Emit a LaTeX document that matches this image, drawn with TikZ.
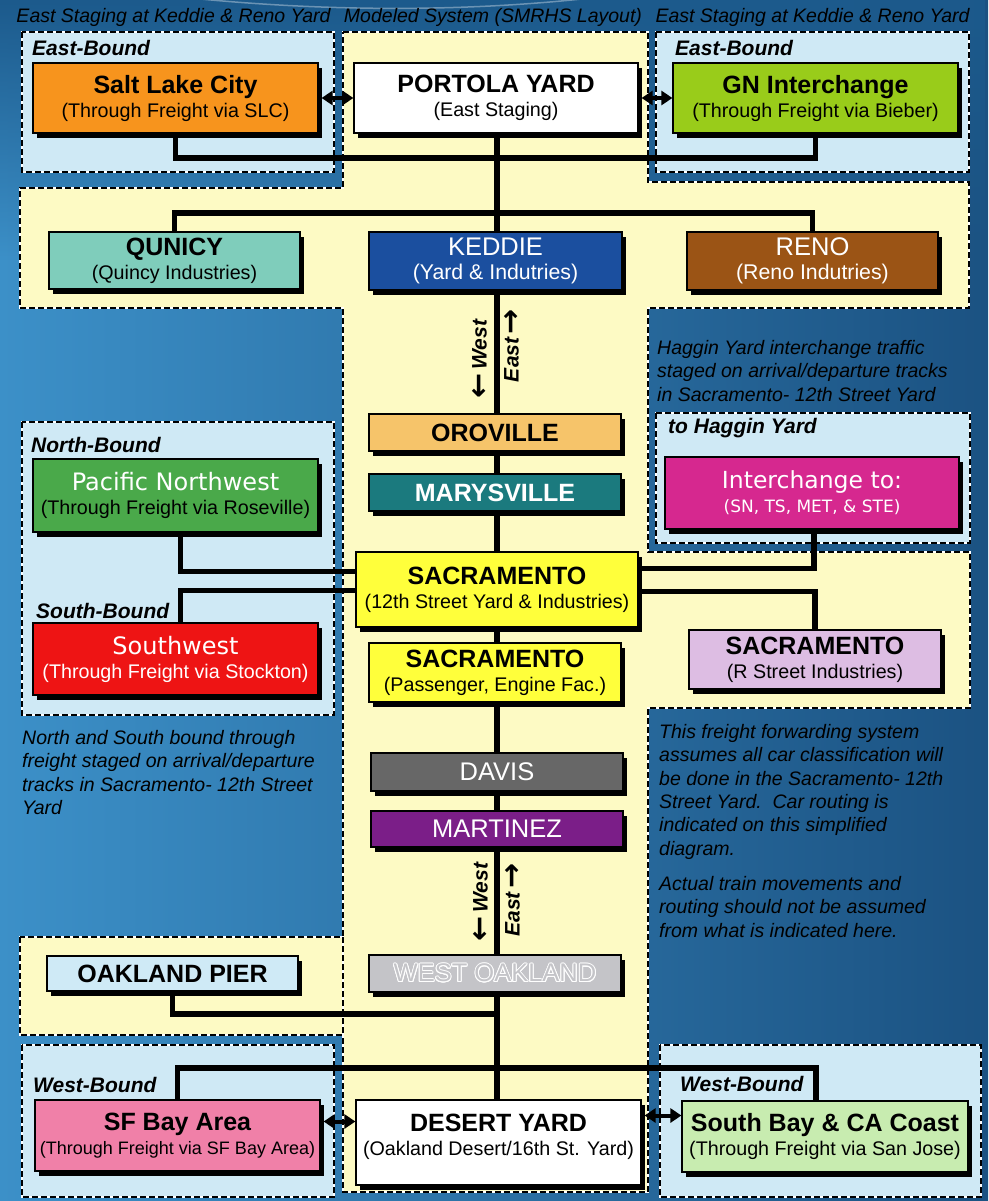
\documentclass[tikz,border=0pt]{standalone}
\usepackage{fontspec}
\setmainfont{Liberation Sans}
\newfontfamily\dv{DejaVu Sans}
\usepackage[copies]{contour}
\usetikzlibrary{shadows,arrows.meta,calc,fadings}
\definecolor{bgL}{HTML}{3C90C8}
\definecolor{bgR}{HTML}{1B5282}
\definecolor{bgT}{HTML}{1C5A8C}
\definecolor{paneblue}{HTML}{CFE9F5}
\definecolor{paneyel}{HTML}{FDFAC4}
\definecolor{cSLC}{HTML}{F7941D}
\definecolor{cGN}{HTML}{99CC1A}
\definecolor{cQuincy}{HTML}{7FCDBB}
\definecolor{cKeddie}{HTML}{1B4F9F}
\definecolor{cReno}{HTML}{9B5415}
\definecolor{cOro}{HTML}{F6C46A}
\definecolor{cMarys}{HTML}{1B7A7E}
\definecolor{cSac}{HTML}{FFFF3B}
\definecolor{cDavis}{HTML}{676767}
\definecolor{cMart}{HTML}{7B1E88}
\definecolor{cWOak}{HTML}{C4C4C8}
\definecolor{cPier}{HTML}{CFEAF6}
\definecolor{cSF}{HTML}{F080A8}
\definecolor{cSBay}{HTML}{C8ECB0}
\definecolor{cPNW}{HTML}{4AA94A}
\definecolor{cSW}{HTML}{EE1414}
\definecolor{cInter}{HTML}{D6288F}
\definecolor{cRSt}{HTML}{DDBDE3}
\newcommand\mybigb[1]{{\fontsize{25}{24}\selectfont\bfseries #1}}
\newcommand\mybigr[1]{{\fontsize{25.5}{24}\selectfont #1}}
\newcommand\myverd[1]{{\dv\fontsize{24}{24}\selectfont #1}}
\newcommand\myarwr{{\dv\bfseries\fontsize{30}{30}\selectfont\raisebox{-1.5pt}{\char"2192}}}
\newcommand\myarwl{{\dv\bfseries\fontsize{30}{30}\selectfont\raisebox{-1.5pt}{\char"2190}}}
\pgfdeclarelayer{panels}
\pgfdeclarelayer{lines}
\pgfsetlayers{panels,lines,main}
\contourlength{0.9pt}
\begin{document}
\begin{tikzpicture}[x=1pt,y=-1pt,
  box/.style={draw=black, line width=1.2pt,
    drop shadow={shadow xshift=4pt,shadow yshift=-5pt,opacity=1,fill=black},
    align=center, inner sep=0pt, font=\fontsize{19.7}{24}\selectfont},
  panel/.style={draw=white, line width=1.4pt,
    postaction={fill=none, draw=black, line width=1.4pt, dash pattern=on 6pt off 3pt}},
  conn/.style={draw=black, line width=5.5pt},
  dbl/.style={draw=black, line width=4pt, {Triangle[length=11pt,width=14pt]}-{Triangle[length=11pt,width=14pt]}},
  lab/.style={inner sep=0pt, anchor=west, font=\fontsize{21}{21}\selectfont\bfseries\itshape},
  note/.style={inner sep=0pt, anchor=north west, align=left, font=\fontsize{19.5}{23.4}\selectfont\itshape},
  title/.style={inner sep=0pt, font=\fontsize{19.5}{20}\selectfont\itshape},
  dir/.style={inner sep=0pt, rotate=90, font=\fontsize{21}{21}\selectfont\bfseries\itshape}]
\useasboundingbox (0,0) rectangle (988,1201);
\begin{pgfonlayer}{panels}
  \clip (0,0) rectangle (988,1201);
  \shade[left color=bgL, right color=bgR] (0,0) rectangle (988,1201);
  \fill[bgT, path fading=south] (0,0) rectangle (988,260);
  \draw[white, opacity=0.35, line width=1.5pt] (190,-2) .. controls (330,12) and (470,12) .. (600,-3);
  % yellow modelled system
  \path[panel, fill=paneyel] (343,32) -- (648,32) -- (648,182) -- (969,182) -- (969,308)
     -- (648,308) -- (648,552) -- (970,552) -- (970,708) -- (648,708) -- (648,1192)
     -- (343,1192) -- (343,308) -- (20,308) -- (20,188) -- (343,188) -- cycle;
  \path[panel, fill=paneyel] (20,937) rectangle (343,1035);
  % blue staging panels
  \path[panel, fill=paneblue] (22,32) rectangle (334,172);
  \path[panel, fill=paneblue] (656,32) rectangle (969,172);
  \path[panel, fill=paneblue] (22,422) rectangle (334,715);
  \path[panel, fill=paneblue] (656,413) rectangle (970,543);
  \path[panel, fill=paneblue] (22,1045) rectangle (334,1197);
  \path[panel, fill=paneblue] (660,1045) rectangle (981,1197);
\end{pgfonlayer}

% titles
\node[title] (t1) at (173.5,17) {East Staging at Keddie \& Reno Yard};
\node[title] (t2) at (493,17) {Modeled System (SMRHS Layout)};
\node[title] (t3) at (812.5,17) {East Staging at Keddie \& Reno Yard};

% section labels
\node[lab] (eb1) at (32,48) {East-Bound};
\node[lab] (eb2) at (675,48) {East-Bound};
\node[lab] (nb) at (31,445) {North-Bound};
\node[lab] (sb) at (36,611) {South-Bound};
\node[lab] (hy) at (668,428) {to Haggin Yard};
\node[lab] (wb1) at (33,1085) {West-Bound};
\node[lab] (wb2) at (680,1084) {West-Bound};

% boxes
\node[box, fill=cSLC, minimum width=285pt, minimum height=70pt] (slc) at (175.5,98)
  {\mybigb{Salt Lake City}\\(Through Freight via SLC)};
\node[box, fill=white, minimum width=284pt, minimum height=70pt] (portola) at (496,98)
  {\mybigb{PORTOLA YARD}\\(East Staging)};
\node[box, fill=cGN, minimum width=285pt, minimum height=70pt] (gn) at (815.5,98)
  {\mybigb{GN Interchange}\\(Through Freight via Bieber)};

\node[box, fill=cQuincy, minimum width=251pt, minimum height=57pt] (quincy) at (174.5,260.5)
  {\mybigb{QUNICY}\\(Quincy Industries)};
\node[box, fill=cKeddie, text=white, minimum width=253pt, minimum height=58pt] (keddie) at (495.5,261)
  {\mybigr{KEDDIE}\\{\fontsize{21.3}{24}\selectfont(Yard \& Indutries)}};
\node[box, fill=cReno, text=white, minimum width=251pt, minimum height=58pt] (reno) at (812.5,261)
  {\mybigr{RENO}\\{\fontsize{21.3}{24}\selectfont(Reno Indutries)}};

\node[box, fill=cOro, minimum width=252pt, minimum height=37pt] (oro) at (495,432.5) {\mybigb{OROVILLE}};
\node[box, fill=cMarys, text=white, minimum width=252pt, minimum height=37pt] (marys) at (495,492.5) {\mybigb{MARYSVILLE}};

\node[box, fill=cSac, minimum width=282pt, minimum height=75pt] (sac12) at (497,589.5)
  {\mybigb{SACRAMENTO}\\(12th Street Yard \& Industries)};
\node[box, fill=cSac, minimum width=252pt, minimum height=59pt] (sacpass) at (495,672.5)
  {\mybigb{SACRAMENTO}\\(Passenger, Engine Fac.)};

\node[box, fill=cDavis, text=white, minimum width=252pt, minimum height=38pt] (davis) at (497,772) {\mybigr{DAVIS}};
\node[box, fill=cMart, text=white, minimum width=252pt, minimum height=36pt] (mart) at (497,829) {\mybigr{MARTINEZ}};
\node[box, fill=cWOak, minimum width=252pt, minimum height=37pt] (woak) at (495,973.5)
  {\mybigr{\contour{white}{\textcolor{cWOak}{WEST OAKLAND}}}};

\node[box, fill=cPier, minimum width=251pt, minimum height=35pt] (pier) at (172.5,973.5) {\mybigb{OAKLAND PIER}};

\node[box, fill=cSF, minimum width=285pt, minimum height=71pt] (sf) at (177.5,1135.5)
  {\mybigb{SF Bay Area}\\{\fontsize{18}{24}\selectfont(Through Freight via SF Bay Area)}};
\node[box, fill=white, minimum width=285pt, minimum height=85pt] (desert) at (498.5,1142.5)
  {\mybigb{DESERT YARD}\\(Oakland Desert/16th St. Yard)\\[-8pt]\rule{0pt}{1pt}};
\node[box, fill=cSBay, minimum width=286pt, minimum height=71pt] (sbay) at (825,1136.5)
  {\mybigb{South Bay \& CA Coast}\\(Through Freight via San Jose)};

\node[box, fill=cPNW, minimum width=285pt, minimum height=73pt] (pnw) at (175.5,495.5)
  {\textcolor{white}{\myverd{Pacific Northwest}}\\(Through Freight via Roseville)};
\node[box, fill=cSW, text=white, minimum width=285pt, minimum height=72pt] (sw) at (175.5,659)
  {\myverd{Southwest}\\(Through Freight via Stockton)};
\node[box, fill=cInter, text=white, minimum width=294pt, minimum height=72pt] (inter) at (812,493)
  {{\dv\fontsize{23.5}{24}\selectfont Interchange to:}\\{\dv\fontsize{17}{20}\selectfont (SN, TS, MET, \& STE)}};
\node[box, fill=cRSt, minimum width=252pt, minimum height=59pt] (rst) at (815,659.5)
  {\mybigb{SACRAMENTO}\\(R Street Industries)};

% direction labels
\node[dir] (w1) at (480,359) {\myarwl\,West};
\node[dir] (e1) at (512,345.5) {East\,\myarwr};
\node[dir] (w2) at (481,902) {\myarwl\,West};
\node[dir] (e2) at (513,900) {East\,\myarwr};

% notes
\node[note] (nhaggin) at (657,340) {Haggin Yard interchange traffic\\staged on arrival/departure tracks\\in Sacramento- 12th Street Yard};
\node[note] (nleft) at (22,730) {North and South bound through\\freight staged on arrival/departure\\tracks in Sacramento- 12th Street\\Yard};
\node[note] (nright) at (659,724) {This freight forwarding system\\assumes all car classification will\\be done in the Sacramento- 12th\\Street Yard.\ \ Car routing is\\indicated on this simplified\\diagram.\\[11.6pt]Actual train movements and\\routing should not be assumed\\from what is indicated here.};

% connectors
\coordinate (j1) at (497,158);
\coordinate (j2) at (497,213);
\coordinate (j3) at (497,1014);
\coordinate (j4) at (497,1068);
\begin{pgfonlayer}{lines}
  \draw[conn] (j1 |- portola.south) -- (j1 |- desert.north);
  \draw[conn] (slc.south) |- (j1) -| (gn.south);
  \draw[conn] (quincy.north) |- (j2) -| (reno.north);
  \draw[conn] ([xshift=5pt]pnw.south) |- ([yshift=18pt]sac12.west);
  \draw[conn] ([xshift=5pt]sw.north) |- ([yshift=-1pt]sac12.west);
  \draw[conn] ([xshift=2pt]inter.south) |- ([yshift=21pt]sac12.east);
  \draw[conn] ([yshift=-2pt]sac12.east) -| (rst.north);
  \draw[conn] (pier.south) |- (j3);
  \draw[conn] (sf.north) |- (j4) -| ([xshift=-9pt]sbay.north);
\end{pgfonlayer}
\draw[dbl] ([xshift=3pt]slc.east) -- (portola.west);
\draw[dbl] ([xshift=3pt]portola.east) -- (gn.west);
\draw[dbl] ([shift={(3pt,14pt)}]sf.east) -- ([yshift=14pt]sf.east -| desert.west);
\draw[dbl] ([shift={(3pt,21pt)}]sbay.west -| desert.east) -- ([yshift=21pt]sbay.west);
\end{tikzpicture}
\end{document}
